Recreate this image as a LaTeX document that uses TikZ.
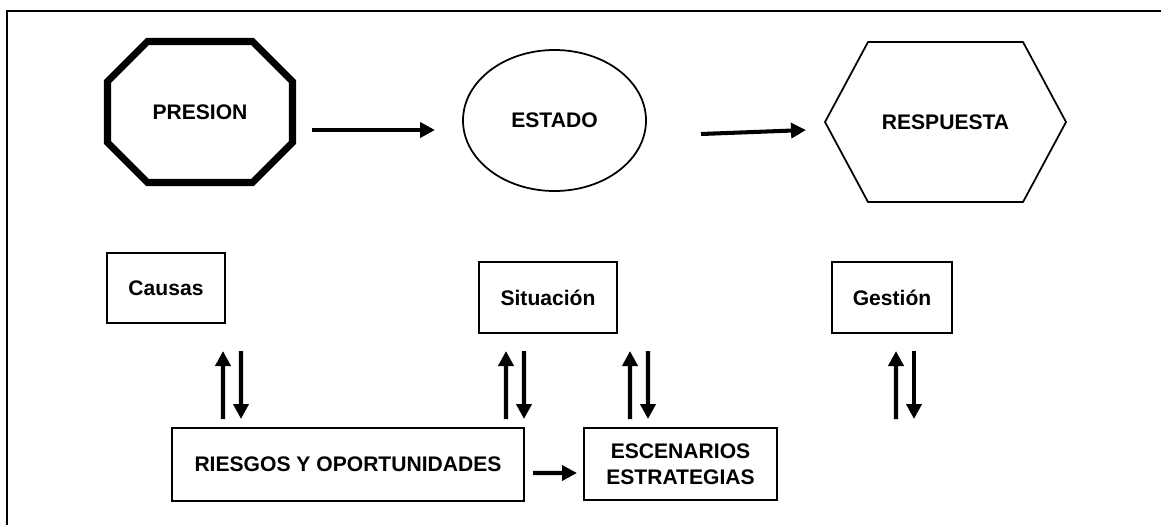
\documentclass[tikz,border=0pt]{standalone}
\usepackage{fontspec}
\setmainfont{Liberation Sans}
\usepackage{tikz}
\usetikzlibrary{shapes.geometric, arrows.meta, positioning, calc}
\tikzstyle{label} = [font=\fontsize{12}{14.5}\selectfont\bfseries, text centered, outer sep=0pt, inner sep=0pt]
\tikzstyle{plainbox} = [label, rectangle, draw, line width=1pt]
\tikzstyle{outline} = [draw, line width=1pt, line join=miter]
\tikzstyle{arrow} = [line width=2.3pt, -{Triangle[length=0.3cm,width=0.3cm]}]

\begin{document}
\begin{tikzpicture}
\useasboundingbox (0,0) rectangle (23.22,-10.5);
% Frame
\draw[line width=1.1pt] (0.14,-10.5) -- (0.14,-0.22) -- (23.22,-0.22);

% Top row
\node[label, minimum width=3.7cm, minimum height=2.82cm] (presion) at (4.0,-2.24) {PRESION};
\draw[line width=4pt, line join=miter] ([xshift=0.8cm]presion.north west) -- ([xshift=-0.8cm]presion.north east)
  -- ([yshift=-0.8cm]presion.north east) -- ([yshift=0.8cm]presion.south east)
  -- ([xshift=-0.8cm]presion.south east) -- ([xshift=0.8cm]presion.south west)
  -- ([yshift=0.8cm]presion.south west) -- ([yshift=-0.8cm]presion.north west) -- cycle;
\node[label, ellipse, draw, line width=1pt, minimum width=3.66cm, minimum height=2.82cm] (estado) at (11.09,-2.41) {ESTADO};
\node[label, minimum width=4.82cm, minimum height=3.2cm] (respuesta) at (18.91,-2.44) {RESPUESTA};
\draw[outline] (respuesta.west) -- ([xshift=0.86cm]respuesta.north west) -- ([xshift=-0.86cm]respuesta.north east)
  -- (respuesta.east) -- ([xshift=-0.86cm]respuesta.south east) -- ([xshift=0.86cm]respuesta.south west) -- cycle;

% Middle row
\node[plainbox, minimum width=2.36cm, minimum height=1.4cm] (causas) at (3.32,-5.76) {Causas};
\node[plainbox, minimum width=2.76cm, minimum height=1.42cm] (situacion) at (10.96,-5.95) {Situación};
\node[plainbox, minimum width=2.4cm, minimum height=1.42cm] (gestion) at (17.84,-5.95) {Gestión};

% Bottom row
\node[plainbox, minimum width=7.04cm, minimum height=1.46cm] (riesgos) at (6.96,-9.29) {RIESGOS Y OPORTUNIDADES};
\node[plainbox, align=center, minimum width=3.86cm, minimum height=1.44cm] (escenarios) at (13.61,-9.28) {ESCENARIOS\\ESTRATEGIAS};
\coordinate (gestfoot) at (18.1,-8.38);

% Horizontal arrows
\draw[arrow] ([shift={(0.39,-0.36)}]presion.east) -- ([shift={(-0.56,-0.19)}]estado.west);
\draw[arrow] ([shift={(1.1,-0.27)}]estado.east) -- ([shift={(-0.38,-0.16)}]respuesta.west);
\draw[arrow] ([shift={(0.18,-0.17)}]riesgos.east) -- ([shift={(-0.14,-0.18)}]escenarios.west);

% Vertical arrow pairs
\draw[arrow] ([shift={(-2.5,0.18)}]riesgos.north) -- ([shift={(1.14,-0.56)}]causas.south);
\draw[arrow] ([shift={(1.5,-0.56)}]causas.south) -- ([shift={(-2.14,0.18)}]riesgos.north);
\draw[arrow] ([shift={(3.16,0.18)}]riesgos.north) -- ([shift={(-0.84,-0.36)}]situacion.south);
\draw[arrow] ([shift={(-0.48,-0.36)}]situacion.south) -- ([shift={(3.52,0.18)}]riesgos.north);
\draw[arrow] ([shift={(-1.01,0.18)}]escenarios.north) -- ([shift={(1.64,-0.36)}]situacion.south);
\draw[arrow] ([shift={(2.0,-0.36)}]situacion.south) -- ([shift={(-0.65,0.18)}]escenarios.north);
\draw[arrow] ([xshift=-0.18cm]gestfoot) -- ([shift={(0.08,-0.36)}]gestion.south);
\draw[arrow] ([shift={(0.44,-0.36)}]gestion.south) -- ([xshift=0.18cm]gestfoot);
\end{tikzpicture}
\end{document}
